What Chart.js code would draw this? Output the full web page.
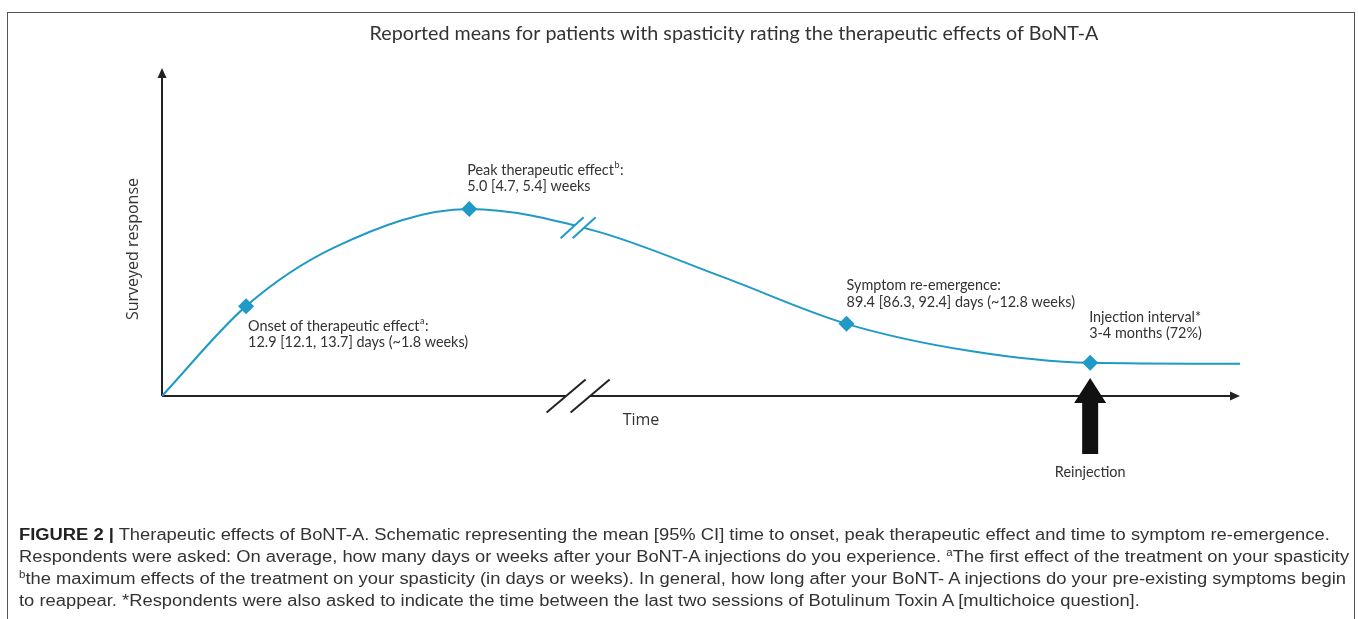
<!DOCTYPE html>
<html>
<head>
<meta charset="utf-8">
<title>Therapeutic effects of BoNT-A</title>
<script src="https://cdn.jsdelivr.net/npm/chart.js"></script>
<style>
  body { margin: 0; background: #fff; width: 1358px; height: 619px; overflow: hidden; position: relative; }
  #chart { position: absolute; left: 0; top: 0; }
  .frame {
    position: absolute; left: 7px; top: 12px; width: 1348px; height: 640px;
    border: 1px solid #555; box-sizing: border-box;
  }
  .caption {
    position: absolute; left: 19px; top: 524px;
    font-family: 'Liberation Sans', Arial, sans-serif; font-size: 16px; line-height: 22px;
    color: #333; white-space: nowrap;
    transform: scaleX(1.147); transform-origin: 0 0;
  }
  .caption b { color: #222; }
  .caption sup { font-size: 10px; line-height: 0; vertical-align: 6px; }
</style>
</head>
<body>
<div class="frame"></div>
<canvas id="chart" width="1358" height="619"></canvas>
<div class="caption">
  <div><b>FIGURE 2 |</b> Therapeutic effects of BoNT-A. Schematic representing the mean [95% CI] time to onset, peak therapeutic effect and time to symptom re-emergence.</div>
  <div>Respondents were asked: On average, how many days or weeks after your BoNT-A injections do you experience. <sup>a</sup>The first effect of the treatment on your spasticity</div>
  <div><sup>b</sup>the maximum effects of the treatment on your spasticity (in days or weeks). In general, how long after your BoNT- A injections do your pre-existing symptoms begin</div>
  <div>to reappear. *Respondents were also asked to indicate the time between the last two sessions of Botulinum Toxin A [multichoice question].</div>
</div>
<script>
// schematic curve (arbitrary time / response units 0-100)
const timeValues = [0, 7.8, 16, 28.5, 40, 52, 63.5, 75, 86.1, 100];
const responseValues = [0, 27.4, 45.3, 57.0, 50.5, 36.3, 22.0, 13.7, 10.1, 9.8];

// the four marked events
const markerTimes = [7.8, 28.5, 63.5, 86.1];
const markerResponses = [27.4, 57.0, 22.0, 10.1];
const noteTitles = ['Onset of therapeutic effect', 'Peak therapeutic effect', 'Symptom re-emergence:', 'Injection interval*'];
const noteSups = ['a', 'b', '', ''];
const noteValues = ['12.9 [12.1, 13.7] days (~1.8 weeks)', '5.0 [4.7, 5.4] weeks', '89.4 [86.3, 92.4] days (~12.8 weeks)', '3-4 months (72%)'];

const breakTime = 38.6;
const reinjectionTime = 86.1;

const titleText = 'Reported means for patients with spasticity rating the therapeutic effects of BoNT-A';
const xTitle = 'Time';
const yTitle = 'Surveyed response';
const reinjectionText = 'Reinjection';

// label placement relative to each marker (pixels)
const noteOffsets = [[2, 20], [-2, -39], [0, -38], [-1, -46]];

const CURVE = '#1f9ac6';
const INK = '#222';
const TEXT = '#333';
const NOTE_FONT = '14.4px Lato, sans-serif';

function drawSlashes(ctx, cx, cy, hx, hy, gap, width) {
  // white gap then two parallel slashes
  ctx.save();
  ctx.fillStyle = '#fff';
  ctx.beginPath();
  ctx.moveTo(cx - gap / 2 - hx * 0.5, cy + hy * 0.5);
  ctx.lineTo(cx - gap / 2 + hx * 0.5, cy - hy * 0.5);
  ctx.lineTo(cx + gap / 2 + hx * 0.5, cy - hy * 0.5);
  ctx.lineTo(cx + gap / 2 - hx * 0.5, cy + hy * 0.5);
  ctx.closePath();
  ctx.fill();
  ctx.lineWidth = width;
  [-gap / 2, gap / 2].forEach(d => {
    ctx.beginPath();
    ctx.moveTo(cx + d - hx, cy + hy);
    ctx.lineTo(cx + d + hx, cy - hy);
    ctx.stroke();
  });
  ctx.restore();
}

const axesPlugin = {
  id: 'axesPlugin',
  beforeDatasetsDraw(chart) {
    const ctx = chart.ctx;
    const xs = chart.scales.x, ys = chart.scales.y;
    const x0 = xs.getPixelForValue(0), x1 = xs.getPixelForValue(100);
    const y0 = ys.getPixelForValue(0), y1 = ys.getPixelForValue(100);
    ctx.save();
    ctx.strokeStyle = INK;
    ctx.fillStyle = INK;
    ctx.lineWidth = 2;
    ctx.beginPath();
    ctx.moveTo(x0, y0); ctx.lineTo(x1 - 6, y0);
    ctx.moveTo(x0, y0); ctx.lineTo(x0, y1 + 6);
    ctx.stroke();
    ctx.beginPath();
    ctx.moveTo(x1, y0); ctx.lineTo(x1 - 10, y0 - 4.5); ctx.lineTo(x1 - 10, y0 + 4.5);
    ctx.closePath(); ctx.fill();
    ctx.beginPath();
    ctx.moveTo(x0, y1); ctx.lineTo(x0 - 4.5, y1 + 10); ctx.lineTo(x0 + 4.5, y1 + 10);
    ctx.closePath(); ctx.fill();

    // break on the time axis
    ctx.strokeStyle = INK;
    drawSlashes(ctx, xs.getPixelForValue(breakTime), y0, 19.5, 16.5, 24, 2);

    // axis titles
    ctx.fillStyle = TEXT;
    ctx.font = '16px "Open Sans", sans-serif';
    ctx.textAlign = 'center';
    ctx.textBaseline = 'middle';
    ctx.fillText(xTitle, 641, 420);
    ctx.save();
    ctx.translate(133, 249);
    ctx.rotate(-Math.PI / 2);
    ctx.fillText(yTitle, 0, 0);
    ctx.restore();

    // title
    ctx.font = '19.7px Lato, sans-serif';
    ctx.fillText(titleText, 734, 34);
    ctx.restore();
  },
  afterDatasetsDraw(chart) {
    const ctx = chart.ctx;
    const xs = chart.scales.x, ys = chart.scales.y;
    const y0 = ys.getPixelForValue(0);
    ctx.save();

    // break on the curve, placed on the line itself
    const pts = chart.getDatasetMeta(0).data;
    const bx = xs.getPixelForValue(breakTime);
    let by = 0;
    for (let i = 1; i < pts.length; i++) {
      if (pts[i].x >= bx) {
        const t = (bx - pts[i - 1].x) / (pts[i].x - pts[i - 1].x);
        by = pts[i - 1].y + t * (pts[i].y - pts[i - 1].y);
        break;
      }
    }
    ctx.strokeStyle = CURVE;
    drawSlashes(ctx, bx, by, 11.5, 10.5, 12, 2);

    // reinjection arrow
    const rx = xs.getPixelForValue(reinjectionTime);
    ctx.fillStyle = '#111';
    ctx.beginPath();
    ctx.moveTo(rx, y0 - 18);
    ctx.lineTo(rx + 16, y0 + 7);
    ctx.lineTo(rx + 8, y0 + 7);
    ctx.lineTo(rx + 8, y0 + 58);
    ctx.lineTo(rx - 8, y0 + 58);
    ctx.lineTo(rx - 8, y0 + 7);
    ctx.lineTo(rx - 16, y0 + 7);
    ctx.closePath();
    ctx.fill();
    ctx.fillStyle = TEXT;
    ctx.font = NOTE_FONT;
    ctx.textAlign = 'center';
    ctx.textBaseline = 'middle';
    ctx.fillText(reinjectionText, rx, y0 + 76);

    // event notes
    ctx.textAlign = 'left';
    markerTimes.forEach((t, i) => {
      const px = xs.getPixelForValue(t) + noteOffsets[i][0];
      const py = ys.getPixelForValue(markerResponses[i]) + noteOffsets[i][1];
      ctx.font = NOTE_FONT;
      ctx.fillText(noteTitles[i], px, py);
      if (noteSups[i]) {
        let w = ctx.measureText(noteTitles[i]).width;
        ctx.font = '9px Lato, sans-serif';
        ctx.fillText(noteSups[i], px + w + 0.5, py - 5);
        w += ctx.measureText(noteSups[i]).width + 1;
        ctx.font = NOTE_FONT;
        ctx.fillText(':', px + w, py);
      }
      ctx.fillText(noteValues[i], px, py + 16.5);
    });
    ctx.restore();
  }
};

new Chart(document.getElementById('chart'), {
  type: 'line',
  data: {
    datasets: [{
      data: timeValues.map((t, i) => ({ x: t, y: responseValues[i] })),
      borderColor: CURVE,
      borderWidth: 2,
      pointRadius: 0,
      cubicInterpolationMode: 'monotone',
      clip: false,
      order: 2
    }, {
      data: markerTimes.map((t, i) => ({ x: t, y: markerResponses[i] })),
      showLine: false,
      pointStyle: 'rectRot',
      pointRadius: 8,
      pointBackgroundColor: CURVE,
      pointBorderColor: CURVE,
      pointBorderWidth: 0,
      clip: false,
      order: 1
    }]
  },
  options: {
    responsive: false,
    devicePixelRatio: 1,
    animation: false,
    layout: { padding: { left: 162, right: 118, top: 68, bottom: 223 } },
    scales: {
      x: { type: 'linear', min: 0, max: 100, display: false },
      y: { min: 0, max: 100, display: false }
    },
    plugins: { legend: { display: false }, tooltip: { enabled: false } }
  },
  plugins: [axesPlugin]
});
</script>
</body>
</html>
